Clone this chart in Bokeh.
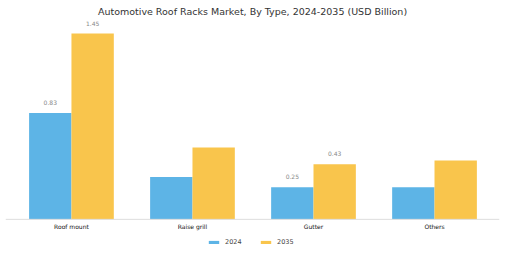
from bokeh.plotting import figure
from bokeh.models import Range1d, ColumnDataSource, Legend, LegendItem, LabelSet, Span
from bokeh.core.properties import value
from bokeh.embed import file_html
from bokeh.resources import INLINE

categories = ["Roof mount", "Raise grill", "Gutter", "Others"]
values_2024 = [0.83, 0.33, 0.25, 0.25]
values_2035 = [1.45, 0.56, 0.43, 0.46]
labels_2024 = ["0.83", "", "0.25", ""]
labels_2035 = ["1.45", "", "0.43", ""]
series_names = ["2024", "2035"]

C24 = "#5DB4E6"
C35 = "#F9C54C"
FONT = "DejaVu Sans"

idx = list(range(len(categories)))
w = 0.35
src24 = ColumnDataSource(dict(x=[i - w / 2 for i in idx], top=values_2024, lab=labels_2024))
src35 = ColumnDataSource(dict(x=[i + w / 2 for i in idx], top=values_2035, lab=labels_2035))
src_cat = ColumnDataSource(dict(x=idx, y=[0] * len(idx), lab=categories))

p = figure(width=505, height=253, output_backend="svg", toolbar_location=None,
           x_range=Range1d(-0.545, 3.537), y_range=Range1d(-0.2665, 1.56),
           min_border_left=5, min_border_right=6, min_border_top=0, min_border_bottom=0)
p.title.text = "Automotive Roof Racks Market, By Type, 2024-2035 (USD Billion)"
p.title.align = "center"
p.title.text_font = FONT
p.title.text_font_style = "normal"
p.title.text_font_size = "9.5px"
p.title.text_color = "#333333"
p.title.standoff = 6

r24 = p.vbar(x="x", top="top", width=w, source=src24, fill_color=C24, line_color=None)
r35 = p.vbar(x="x", top="top", width=w, source=src35, fill_color=C35, line_color=None)
p.add_layout(Span(location=0, dimension="width", line_color="#dddddd", line_width=1))

for s in (src24, src35):
    p.add_layout(LabelSet(x="x", y="top", text="lab", source=s, text_align="center",
                          text_baseline="bottom", y_offset=8, text_font=value(FONT),
                          text_font_size=value("6px"), text_color="#888888"))
p.add_layout(LabelSet(x="x", y="y", text="lab", source=src_cat, text_align="center",
                      text_baseline="top", y_offset=-4, text_font=value(FONT),
                      text_font_size=value("6px"), text_color="#111111"))

p.xgrid.visible = False
p.ygrid.visible = False
p.xaxis.visible = False
p.yaxis.visible = False
p.outline_line_color = None

legend = Legend(items=[LegendItem(label=series_names[0], renderers=[r24]),
                       LegendItem(label=series_names[1], renderers=[r35])],
                orientation="horizontal", location="bottom_center",
                label_text_font=FONT, label_text_font_size="6.5px",
                glyph_width=13, glyph_height=4, label_standoff=5, spacing=14,
                border_line_color=None, background_fill_alpha=0,
                padding=2, margin=7)
p.add_layout(legend)

open("out.html", "w").write(file_html(p, INLINE))
